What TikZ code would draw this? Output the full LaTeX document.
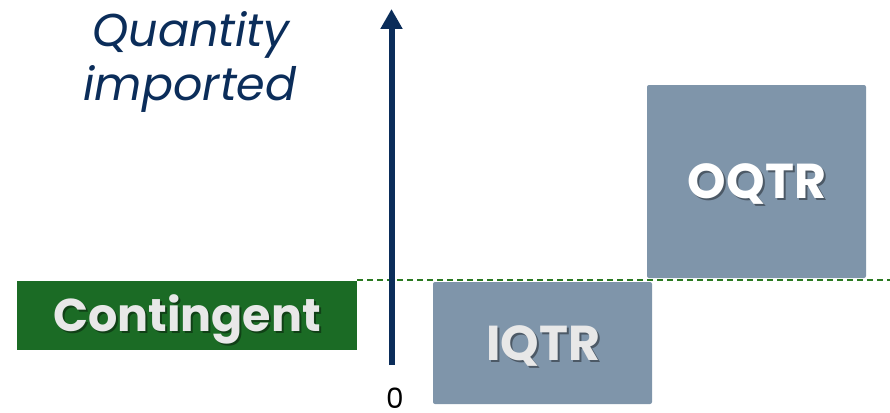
\documentclass[tikz,border=0pt]{standalone}
\usepackage{fontspec}
\setmainfont{Poppins}
\usetikzlibrary{arrows.meta}

\definecolor{axisnavy}{HTML}{0B2D5A}
\definecolor{quotagreen}{HTML}{1B6B25}
\definecolor{barblue}{HTML}{7F95AA}
\definecolor{lblgrey}{HTML}{E8E8E8}

\begin{document}
\begin{tikzpicture}[x=1pt, y=-1pt,
  bar/.style = {fill=barblue, rounded corners=2pt, inner sep=0pt},
  lbl/.style = {anchor=base, text=lblgrey, inner sep=0pt, font=\bfseries\fontsize{46}{46}\selectfont},
  barlbl/.style = {lbl, font=\bfseries\fontsize{49}{49}\selectfont},
  lblshadow/.style = {text=black, opacity=0.4},
  axis/.style = {draw=axisnavy, line width=6pt, -{Triangle[width=21pt, length=20pt]}}]

\useasboundingbox (0, 0) rectangle (890, 412);

% quota level
\node[fill=quotagreen, inner sep=0pt, minimum width=340, minimum height=69] (cont) at (187, 315.5) {};
\coordinate (dashL) at (357, 280);
\coordinate (dashR) at (890, 280);
\draw[quotagreen!90!lime, line width=1.3pt, dash pattern=on 6pt off 4pt] (dashL) -- (dashR);

\node[lbl, lblshadow] at (189, 333) {Contingent};
\node[lbl] (contlbl) at (187, 331) {Contingent};

% bars
\node[bar, minimum width=219, minimum height=122] (iqtr) at (542.5, 343) {};
\node[bar, minimum width=219, minimum height=193] (oqtr) at (756.5, 181.5) {};

\node[barlbl, lblshadow] at (545, 362) {IQTR};
\node[barlbl] (iqtrlbl) at (543, 360) {IQTR};
\node[barlbl, lblshadow] at (759, 200) {OQTR};
\node[barlbl, text=white] (oqtrlbl) at (757, 198) {OQTR};

% axis
\coordinate (origin) at (391.5, 365);
\coordinate (top) at (391.5, 9);
\draw[axis] (origin) -- (top);
\node[anchor=base, inner sep=0pt, font=\fontsize{28}{28}\selectfont] (zero) at (395, 408) {0};

\node[anchor=base, inner sep=0pt, text=axisnavy, font=\itshape\fontsize{46}{46}\selectfont] (qty) at (191, 47) {Quantity};
\node[anchor=base, inner sep=0pt, text=axisnavy, font=\itshape\fontsize{46}{46}\selectfont] (imp) at (190, 100) {imported};

\end{tikzpicture}
\end{document}
